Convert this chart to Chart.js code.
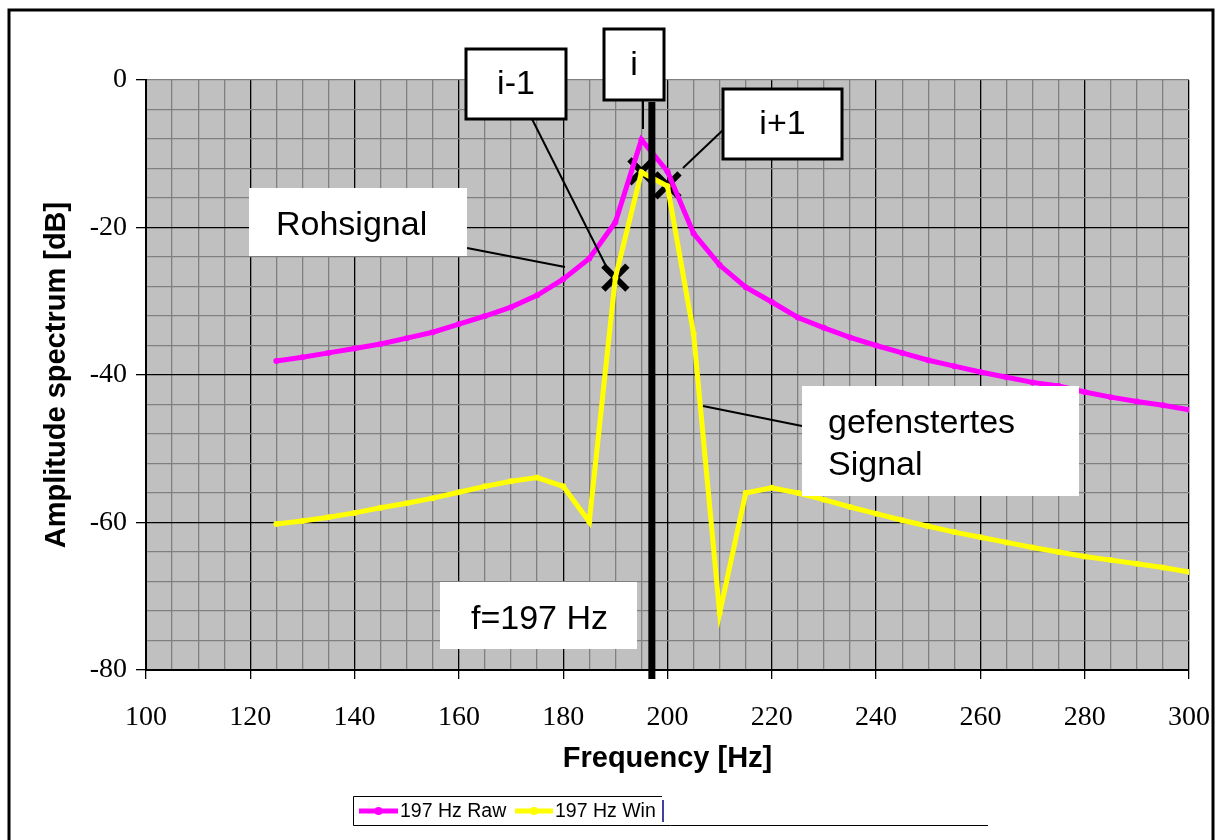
<!DOCTYPE html>
<html>
<head>
<meta charset="utf-8">
<script src="https://cdn.jsdelivr.net/npm/chart.js@4"></script>
<style>
  body { margin: 0; background: #fff; }
  canvas { display: block; }
</style>
</head>
<body>
<canvas id="myChart" width="1221" height="840"></canvas>
<script>
// frequencies in Hz
const freq = [125, 130, 135, 140, 145, 150, 155, 160, 165, 170, 175, 180, 185, 190, 195, 200, 205, 210,
              215, 220, 225, 230, 235, 240, 245, 250, 255, 260, 265, 270, 275, 280, 285, 290, 295, 300];
// 197 Hz Raw (dB)
const raw = [-38.1, -37.6, -37.0, -36.4, -35.8, -35.0, -34.2, -33.1, -32.0, -30.8, -29.2, -27.0, -24.2, -19.3, -8.1, -12.4, -20.8, -25.1,
             -28.1, -30.1, -32.2, -33.6, -34.9, -36.0, -37.0, -38.0, -38.8, -39.6, -40.3, -41.0, -41.5, -42.3, -43.0, -43.6, -44.1, -44.7];
// 197 Hz Win (dB)
const win = [-60.2, -59.8, -59.3, -58.7, -58.0, -57.4, -56.7, -55.9, -55.1, -54.4, -53.9, -55.1, -59.9, -26.8, -12.5, -14.4, -34.4, -72.3,
             -56.0, -55.3, -56.0, -56.9, -57.9, -58.8, -59.7, -60.5, -61.3, -62.0, -62.7, -63.4, -64.0, -64.6, -65.1, -65.6, -66.1, -66.7];
// bins i-1, i, i+1 marked with crosses
const markFreq = [190, 195, 200];
const markDb = [-26.8, -12.4, -14.3];
const signalFreq = 197;

const seriesNames = ["197 Hz Raw", "197 Hz Win"];
const xTitle = "Frequency [Hz]";
const yTitle = "Amplitude spectrum [dB]";

const toXY = (xs, ys) => xs.map((x, i) => ({x: x, y: ys[i]}));

const sans = "'Liberation Sans', Arial, sans-serif";
const serif = "'Liberation Serif', 'Times New Roman', serif";

const decorations = {
    id: 'decorations',
    beforeDraw(chart) {
        const ctx = chart.ctx;
        const a = chart.chartArea;
        ctx.save();
        ctx.fillStyle = '#fff';
        ctx.fillRect(0, 0, chart.width, chart.height);
        ctx.fillStyle = '#c0c0c0';
        ctx.fillRect(a.left, a.top, a.right - a.left, a.bottom - a.top);
        ctx.restore();
    },
    afterDatasetsDraw(chart) {
        const ctx = chart.ctx;
        const xs = chart.scales.x;
        ctx.save();

        // thick line at signal frequency
        const fx = xs.getPixelForValue(signalFreq);
        ctx.fillStyle = '#000';
        ctx.fillRect(fx - 3.5, 102, 7, 577);

        // leader lines
        ctx.strokeStyle = '#000';
        ctx.lineWidth = 2;
        const lines = [
            [532, 119, 607, 268],
            [643, 100, 643, 129],
            [723, 130, 683, 168],
            [467, 248, 565, 267],
            [802, 426, 703, 406]
        ];
        lines.forEach(l => {
            ctx.beginPath();
            ctx.moveTo(l[0], l[1]);
            ctx.lineTo(l[2], l[3]);
            ctx.stroke();
        });

        // boxes
        ctx.font = "34px " + sans;
        ctx.textBaseline = 'middle';
        const boxes = [
            {x: 466, y: 49, w: 100, h: 70, text: "i-1"},
            {x: 604, y: 29, w: 60, h: 71, text: "i"},
            {x: 723, y: 89, w: 119, h: 70, text: "i+1"}
        ];
        boxes.forEach(b => {
            ctx.fillStyle = '#fff';
            ctx.fillRect(b.x, b.y, b.w, b.h);
            ctx.lineWidth = 3;
            ctx.strokeRect(b.x, b.y, b.w, b.h);
            ctx.fillStyle = '#000';
            ctx.textAlign = 'center';
            ctx.fillText(b.text, b.x + b.w / 2, b.y + b.h / 2 + 1);
        });

        ctx.textAlign = 'left';
        ctx.textBaseline = 'alphabetic';
        const notes = [
            {x: 249, y: 188, w: 218, h: 68, lines: ["Rohsignal"], tx: 276, ty: [235]},
            {x: 440, y: 582, w: 197, h: 67, lines: ["f=197 Hz"], tx: 471, ty: [629]},
            {x: 802, y: 386, w: 277, h: 110, lines: ["gefenstertes", "Signal"], tx: 828, ty: [433, 475]}
        ];
        notes.forEach(n => {
            ctx.fillStyle = '#fff';
            ctx.fillRect(n.x, n.y, n.w, n.h);
            ctx.fillStyle = '#000';
            n.lines.forEach((t, i) => ctx.fillText(t, n.tx, n.ty[i]));
        });

        // outer frame
        ctx.strokeStyle = '#000';
        ctx.lineWidth = 3;
        ctx.strokeRect(9, 10, 1204, 840);

        // legend
        ctx.lineWidth = 1;
        ctx.beginPath();
        ctx.moveTo(662, 796.5); ctx.lineTo(353.5, 796.5); ctx.lineTo(353.5, 825.5); ctx.lineTo(988, 825.5);
        ctx.stroke();
        const ds = chart.data.datasets;
        const items = [{x0: 359, x1: 398, tx: 400, d: ds[0]}, {x0: 515, x1: 553, tx: 555, d: ds[1]}];
        ctx.font = "19.5px " + sans;
        ctx.textBaseline = 'middle';
        items.forEach(it => {
            ctx.strokeStyle = it.d.borderColor;
            ctx.lineWidth = 5;
            ctx.beginPath();
            ctx.moveTo(it.x0, 811); ctx.lineTo(it.x1, 811);
            ctx.stroke();
            ctx.fillStyle = it.d.borderColor;
            ctx.beginPath();
            ctx.arc((it.x0 + it.x1) / 2, 811, 4, 0, Math.PI * 2);
            ctx.fill();
            ctx.fillStyle = '#000';
            ctx.fillText(it.d.label, it.tx, 812);
        });
        ctx.strokeStyle = '#000080';
        ctx.lineWidth = 1.5;
        ctx.beginPath();
        ctx.moveTo(663, 800); ctx.lineTo(663, 822);
        ctx.stroke();

        ctx.restore();
    }
};

const isMajor = v => Math.abs(v % 20) < 0.001;

new Chart(document.querySelector('#myChart'), {
    type: 'line',
    data: {
        datasets: [{
            label: seriesNames[0],
            data: toXY(freq, raw),
            borderColor: '#ff00ff',
            backgroundColor: '#ff00ff',
            borderWidth: 5,
            pointRadius: 3,
            pointBorderWidth: 0,
            tension: 0
        }, {
            label: seriesNames[1],
            data: toXY(freq, win),
            borderColor: '#ffff00',
            backgroundColor: '#ffff00',
            borderWidth: 5,
            pointRadius: 3,
            pointBorderWidth: 0,
            tension: 0
        }, {
            label: 'bins',
            data: toXY(markFreq, markDb),
            showLine: false,
            pointStyle: 'crossRot',
            pointRadius: 17,
            pointBorderWidth: 6,
            pointBorderColor: '#000',
            pointBackgroundColor: '#000',
            borderColor: '#000',
            backgroundColor: '#000'
        }]
    },
    options: {
        responsive: false,
        animation: false,
        layout: {
            padding: {left: 0, top: 80, right: 32, bottom: 60}
        },
        plugins: {
            legend: {display: false},
            tooltip: {enabled: false}
        },
        scales: {
            x: {
                type: 'linear',
                min: 100,
                max: 300,
                afterFit: s => { s.height = 110; s.paddingLeft = 0; s.paddingRight = 0; },
                border: {color: '#000', width: 2},
                grid: {
                    color: c => isMajor(c.tick.value) ? '#000' : '#808080',
                    tickColor: c => isMajor(c.tick.value) ? '#000' : 'rgba(0,0,0,0)',
                    tickLength: 9,
                    lineWidth: 1.3
                },
                ticks: {
                    stepSize: 5,
                    autoSkip: false,
                    maxRotation: 0,
                    padding: 22,
                    color: '#000',
                    font: {family: serif, size: 28},
                    callback: v => isMajor(v) ? v : ''
                },
                title: {
                    display: true,
                    text: xTitle,
                    color: '#000',
                    font: {family: sans, size: 29, weight: 'bold'},
                    padding: {top: 0, bottom: 4}
                }
            },
            y: {
                min: -80,
                max: 0,
                afterFit: s => { s.width = 146; s.paddingTop = 0; s.paddingBottom = 0; },
                border: {color: '#000', width: 2},
                grid: {
                    color: c => (isMajor(c.tick.value) && c.tick.value !== 0) ? '#000' : '#808080',
                    tickColor: c => isMajor(c.tick.value) ? '#000' : 'rgba(0,0,0,0)',
                    tickLength: 10,
                    lineWidth: 1.3
                },
                ticks: {
                    stepSize: 4,
                    autoSkip: false,
                    padding: 9,
                    color: '#000',
                    font: {family: serif, size: 28},
                    callback: v => isMajor(v) ? (v === 0 ? '0' : v) : ''
                },
                title: {
                    display: true,
                    text: yTitle,
                    color: '#000',
                    font: {family: sans, size: 29, weight: 'bold'},
                    padding: {top: 40, bottom: 0}
                }
            }
        }
    },
    plugins: [decorations]
});
</script>
</body>
</html>
